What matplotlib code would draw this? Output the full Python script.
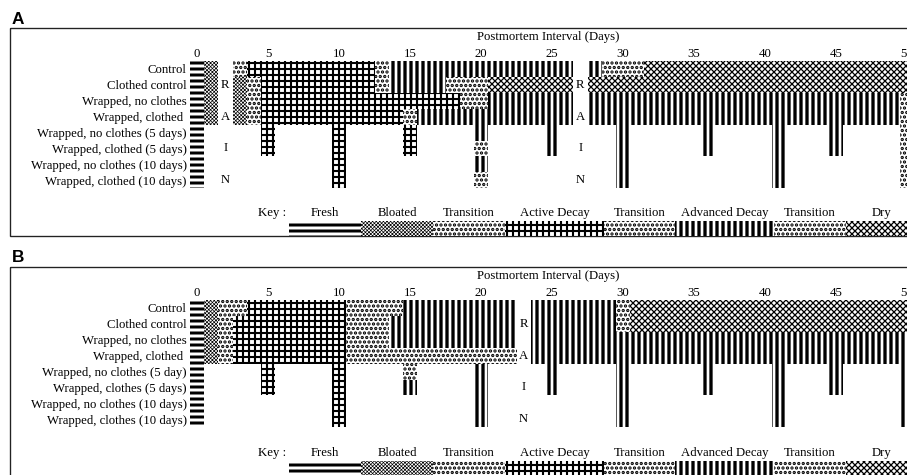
import matplotlib.pyplot as plt
from matplotlib.patches import Rectangle

plt.rcParams['font.family'] = ['Liberation Serif', 'DejaVu Serif']
plt.rcParams['font.size'] = 8.5

DPI = 108
W, H = 907, 475

# stage -> (hatch, hatch linewidth)
STYLE = {
    'fresh':    ('---', 2.0),
    'bloated':  ('x' * 10, 0.45),
    'trans':    ('....', 1.5),
    'active':   ('+++', 1.4),
    'advanced': ('|||', 2.2),
    'dry':      ('x' * 6, 0.85),
}

key_labels = ['Fresh', 'Bloated', 'Transition', 'Active Decay', 'Transition',
              'Advanced Decay', 'Transition', 'Dry']
key_stages = ['fresh', 'bloated', 'trans', 'active', 'trans', 'advanced', 'trans', 'dry']

day_ticks = [0, 5, 10, 15, 20, 25, 30, 35, 40, 45, 50]

rows_a = ['Control', 'Clothed control', 'Wrapped, no clothes', 'Wrapped, clothed ',
          'Wrapped, no clothes (5 days)', 'Wrapped, clothed (5 days)',
          'Wrapped, no clothes (10 days)', 'Wrapped, clothed (10 days)']
rows_b = ['Control', 'Clothed control', 'Wrapped, no clothes', 'Wrapped, clothed ',
          'Wrapped, no clothes (5 day)', 'Wrapped, clothes (5 days)',
          'Wrapped, no clothes (10 days)', 'Wrapped, clothes (10 days)']

# continuous rows: (first day, last day, stage)
a_control = [(0, 0, 'fresh'), (1, 1, 'bloated'), (3, 3, 'trans'), (4, 12, 'active'),
             (13, 13, 'trans'), (14, 26, 'advanced'), (28, 28, 'advanced'),
             (29, 31, 'trans'), (32, 50, 'dry')]
a_clothed = [(0, 0, 'fresh'), (1, 1, 'bloated'), (3, 3, 'bloated'), (4, 4, 'trans'),
             (5, 12, 'active'), (13, 13, 'trans'), (14, 17, 'advanced'),
             (18, 20, 'trans'), (21, 26, 'dry'), (28, 50, 'dry')]
a_wrap = [(0, 0, 'fresh'), (1, 1, 'bloated'), (3, 3, 'bloated'), (4, 4, 'trans'),
          (5, 18, 'active'), (19, 20, 'trans'), (21, 26, 'advanced'),
          (28, 49, 'advanced'), (50, 50, 'trans')]
a_wrapcl = [(0, 0, 'fresh'), (1, 1, 'bloated'), (3, 3, 'bloated'), (4, 4, 'trans'),
            (5, 14, 'active'), (15, 15, 'trans'), (16, 26, 'advanced'),
            (28, 49, 'advanced'), (50, 50, 'trans')]

b_control = [(0, 0, 'fresh'), (1, 1, 'bloated'), (2, 3, 'trans'), (4, 10, 'active'),
             (11, 14, 'trans'), (15, 22, 'advanced'), (24, 29, 'advanced'),
             (30, 30, 'trans'), (31, 50, 'dry')]
b_clothed = [(0, 0, 'fresh'), (1, 1, 'bloated'), (2, 2, 'trans'), (3, 10, 'active'),
             (11, 13, 'trans'), (14, 22, 'advanced'), (24, 29, 'advanced'),
             (30, 30, 'trans'), (31, 50, 'dry')]
b_wrap = [(0, 0, 'fresh'), (1, 1, 'bloated'), (2, 2, 'trans'), (3, 10, 'active'),
          (11, 13, 'trans'), (14, 22, 'advanced'), (24, 50, 'advanced')]
b_wrapcl = [(0, 0, 'fresh'), (1, 1, 'bloated'), (2, 2, 'trans'), (3, 10, 'active'),
            (11, 22, 'trans'), (24, 50, 'advanced')]

# sampled rows: days checked and stage seen
days5 = [0, 5, 10, 15, 20, 25, 30, 36, 41, 45, 50]
days10 = [0, 10, 20, 30, 41, 50]
a_nc5 = ['fresh', 'active', 'active', 'active', 'advanced', 'advanced', 'advanced',
         'advanced', 'advanced', 'advanced', 'trans']
a_cl5 = ['fresh', 'active', 'active', 'active', 'trans', 'advanced', 'advanced',
         'advanced', 'advanced', 'advanced', 'trans']
a_nc10 = ['fresh', 'active', 'advanced', 'advanced', 'advanced', 'trans']
a_cl10 = ['fresh', 'active', 'trans', 'advanced', 'advanced', 'trans']
b_nc5 = ['fresh', 'active', 'active', 'trans', 'advanced', 'advanced', 'advanced',
         'advanced', 'advanced', 'advanced', 'advanced']
b_cl5 = ['fresh', 'active', 'active', 'advanced', 'advanced', 'advanced', 'advanced',
         'advanced', 'advanced', 'advanced', 'advanced']
b_nc10 = ['fresh', 'active', 'advanced', 'advanced', 'advanced', 'advanced']
b_cl10 = ['fresh', 'active', 'advanced', 'advanced', 'advanced', 'advanced']

rain_a = [2, 27]
rain_b = [23]


def sampled(days, stages):
    return [(d, d, s) for d, s in zip(days, stages)]


segs_a = [a_control, a_clothed, a_wrap, a_wrapcl,
          sampled(days5, a_nc5), sampled(days5, a_cl5),
          sampled(days10, a_nc10), sampled(days10, a_cl10)]
segs_b = [b_control, b_clothed, b_wrap, b_wrapcl,
          sampled(days5, b_nc5), sampled(days5, b_cl5),
          sampled(days10, b_nc10), sampled(days10, b_cl10)]

# layout (pixels)
PX_DAY = 14.2
DAY0 = 197
PITCH = 15.9
KEY_X = [289, 361, 433, 505, 604, 675, 774, 846]
KEY_W = [72, 72, 72, 99, 71, 99, 72, 72]

fig = plt.figure(figsize=(W / DPI, H / DPI), dpi=DPI)
ov = fig.add_axes([0, 0, 1, 1])
ov.set_xlim(0, W)
ov.set_ylim(H, 0)
ov.axis('off')


def hatched(patches, lw):
    for p in patches:
        if hasattr(p, 'set_hatch_linewidth'):
            p.set_hatch_linewidth(lw)


def add_panel(top, rows, segs, rain, letter, frame_top, frame_bot, key_y):
    left = DAY0 - 0.5 * PX_DAY
    ax = fig.add_axes([left / W, 1 - (top + 8 * PITCH) / H, (W - left) / W, 8 * PITCH / H])
    ax.set_xlim(-0.5, (W - DAY0) / PX_DAY)
    ax.set_ylim(len(rows), 0)
    ax.patch.set_visible(False)
    for s in ax.spines.values():
        s.set_visible(False)

    for i, row in enumerate(segs):
        for first, last, stage in row:
            hatch, lw = STYLE[stage]
            with plt.rc_context({'hatch.linewidth': lw}):
                bars = ax.barh(i + 0.5, last - first + 1, left=first - 0.5, height=1,
                               color='white', edgecolor='black', linewidth=0, hatch=hatch)
            hatched(bars, lw)

    ax.xaxis.tick_top()
    ax.set_xticks(day_ticks)
    ax.tick_params(axis='x', length=0, pad=0.8)
    ax.set_yticks([i + 0.5 for i in range(len(rows))], rows)
    ax.tick_params(axis='y', length=0, pad=2.1)
    ax.text(0.5, 1.187, 'Postmortem Interval (Days)', transform=ax.transAxes,
            ha='center', va='center')

    for d in rain:
        for i, ch in zip([1, 3, 5, 7], 'RAIN'):
            ax.text(d, i + 0.5, ch, ha='center', va='center')

    # frame and panel letter
    ov.add_patch(Rectangle((10, frame_top), 1000, frame_bot - frame_top,
                           fill=False, edgecolor='#222222', lw=0.9))
    ov.text(12, frame_top - 9, letter, ha='left', va='center', fontsize=11.5,
            fontweight='bold', family='Liberation Sans')

    # key
    ov.text(272, key_y - 8, 'Key :', ha='center', va='center')
    for lab, st, x0, w in zip(key_labels, key_stages, KEY_X, KEY_W):
        hatch, lw = STYLE[st]
        with plt.rc_context({'hatch.linewidth': lw}):
            r = Rectangle((x0, key_y), w, 15, facecolor='white', edgecolor='black',
                          lw=0, hatch=hatch)
        hatched([r], lw)
        ov.add_patch(r)
        ov.text(x0 + w / 2, key_y - 8, lab, ha='center', va='center')


add_panel(61, rows_a, segs_a, rain_a, 'A', 28, 236, 221)
add_panel(300, rows_b, segs_b, rain_b, 'B', 267, 520, 461)

fig.savefig('out.png', dpi=DPI)
